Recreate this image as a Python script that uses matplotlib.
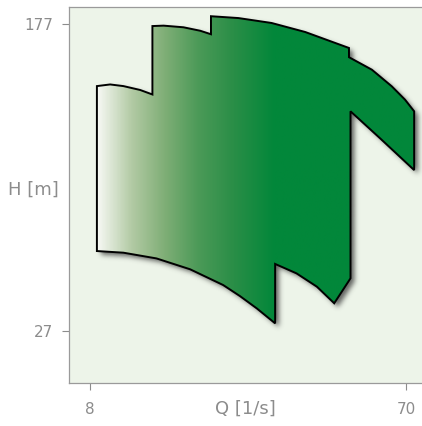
import matplotlib
matplotlib.use('Agg')
import matplotlib.pyplot as plt
import matplotlib.transforms as mtransforms
import numpy as np
from matplotlib.colors import LinearSegmentedColormap
from matplotlib.patches import Polygon
from matplotlib.path import Path

# boundary of the operating range (clockwise from top-left)
q = [9.3, 11.9, 14.5, 17.8, 20.2, 20.2, 22.4, 26.3, 29.6, 31.7, 31.7, 37.1, 43.6,
     50.2, 56.7, 58.8, 58.8, 63.3, 67.2, 69.8, 71.6, 71.6, 65.0, 59.1, 59.1, 55.9,
     52.5, 48.5, 44.3, 44.3, 40.7, 37.4, 34.1, 27.6, 21.0, 14.5, 9.3]
h = [146.7, 147.5, 146.7, 144.8, 142.6, 176.0, 176.2, 175.4, 173.7, 172.0, 180.8,
     179.9, 177.5, 173.1, 167.2, 165.3, 160.8, 154.7, 146.6, 140.1, 134.4, 105.7,
     121.0, 134.4, 52.9, 40.7, 48.8, 55.3, 59.9, 30.9, 38.2, 44.2, 49.6, 57.3,
     62.6, 65.4, 66.2]

x_ticks = [8, 70]
y_ticks = [27, 177]
xlim = (3.82, 73.14)
ylim = (1.8, 185.3)

grey = '#8c8c8c'

fig = plt.figure(figsize=(4.22, 4.26), dpi=100)
ax = fig.add_axes([69 / 422, 43 / 426, 353 / 422, 376 / 426])
ax.set_facecolor('#edf4e9')

verts = np.column_stack([q, h])

# soft drop shadow: rasterise the outline, blur it, draw it shifted
nx, ny = 706, 752
gx = np.linspace(xlim[0], xlim[1], nx)
gy = np.linspace(ylim[0], ylim[1], ny)
X, Y = np.meshgrid(gx, gy)
mask = Path(verts).contains_points(np.column_stack([X.ravel(), Y.ravel()]))
mask = mask.reshape(ny, nx).astype(float)
k = np.exp(-0.5 * (np.arange(-16, 17) / 5.0) ** 2)
k /= k.sum()
blur = np.apply_along_axis(lambda r: np.convolve(r, k, mode='same'), 1, mask)
blur = np.apply_along_axis(lambda c: np.convolve(c, k, mode='same'), 0, blur)
shadow = np.zeros((ny, nx, 4))
shadow[..., :3] = 0.2
shadow[..., 3] = blur * 0.75
shadow_tr = mtransforms.offset_copy(ax.transData, fig=fig, x=4, y=-4, units='dots')
ax.imshow(shadow, extent=[xlim[0], xlim[1], ylim[0], ylim[1]], origin='lower',
          transform=shadow_tr, aspect='auto', interpolation='bilinear', zorder=1)

# white -> green gradient fill clipped to the outline
x0, x1 = min(q), max(q)
stops = [(9.3, '#f6f8f3'), (16.0, '#b2caa4'), (22.5, '#7fae76'), (29.0, '#4c9a58'),
         (36.0, '#2a8e47'), (44.0, '#02873a'), (x1, '#02873a')]
cmap = LinearSegmentedColormap.from_list(
    'fill', [((s - x0) / (x1 - x0), c) for s, c in stops])
grad = np.linspace(0, 1, 600).reshape(1, -1)
im = ax.imshow(grad, cmap=cmap, extent=[x0, x1, min(h), max(h)], aspect='auto',
               interpolation='bilinear', zorder=2)
outline = Polygon(verts, closed=True, fc='none', ec='black', lw=1.4,
                  joinstyle='miter', zorder=3)
ax.add_patch(outline)
im.set_clip_path(outline)

ax.set_xlim(*xlim)
ax.set_ylim(*ylim)
ax.set_xticks(x_ticks)
ax.set_yticks(y_ticks)
ax.tick_params(axis='both', colors=grey, length=5, width=0.8, labelsize=11)
ax.tick_params(axis='x', pad=9)
ax.tick_params(axis='y', pad=6.5)

for side in ['left', 'bottom', 'top']:
    ax.spines[side].set_color('#9a9a9a')
    ax.spines[side].set_linewidth(0.9)
ax.spines['right'].set_visible(False)

ax.set_xlabel('Q [1/s]', fontsize=13, color=grey, va='center')
ax.xaxis.set_label_coords(0.5, -(409 - 383) / 376)
ax.set_ylabel('H [m]', fontsize=13, color=grey, rotation=0, ha='center', va='center')
ax.yaxis.set_label_coords((33 - 69) / 353, (383 - 190) / 376)

fig.savefig('out.png', dpi=100)
